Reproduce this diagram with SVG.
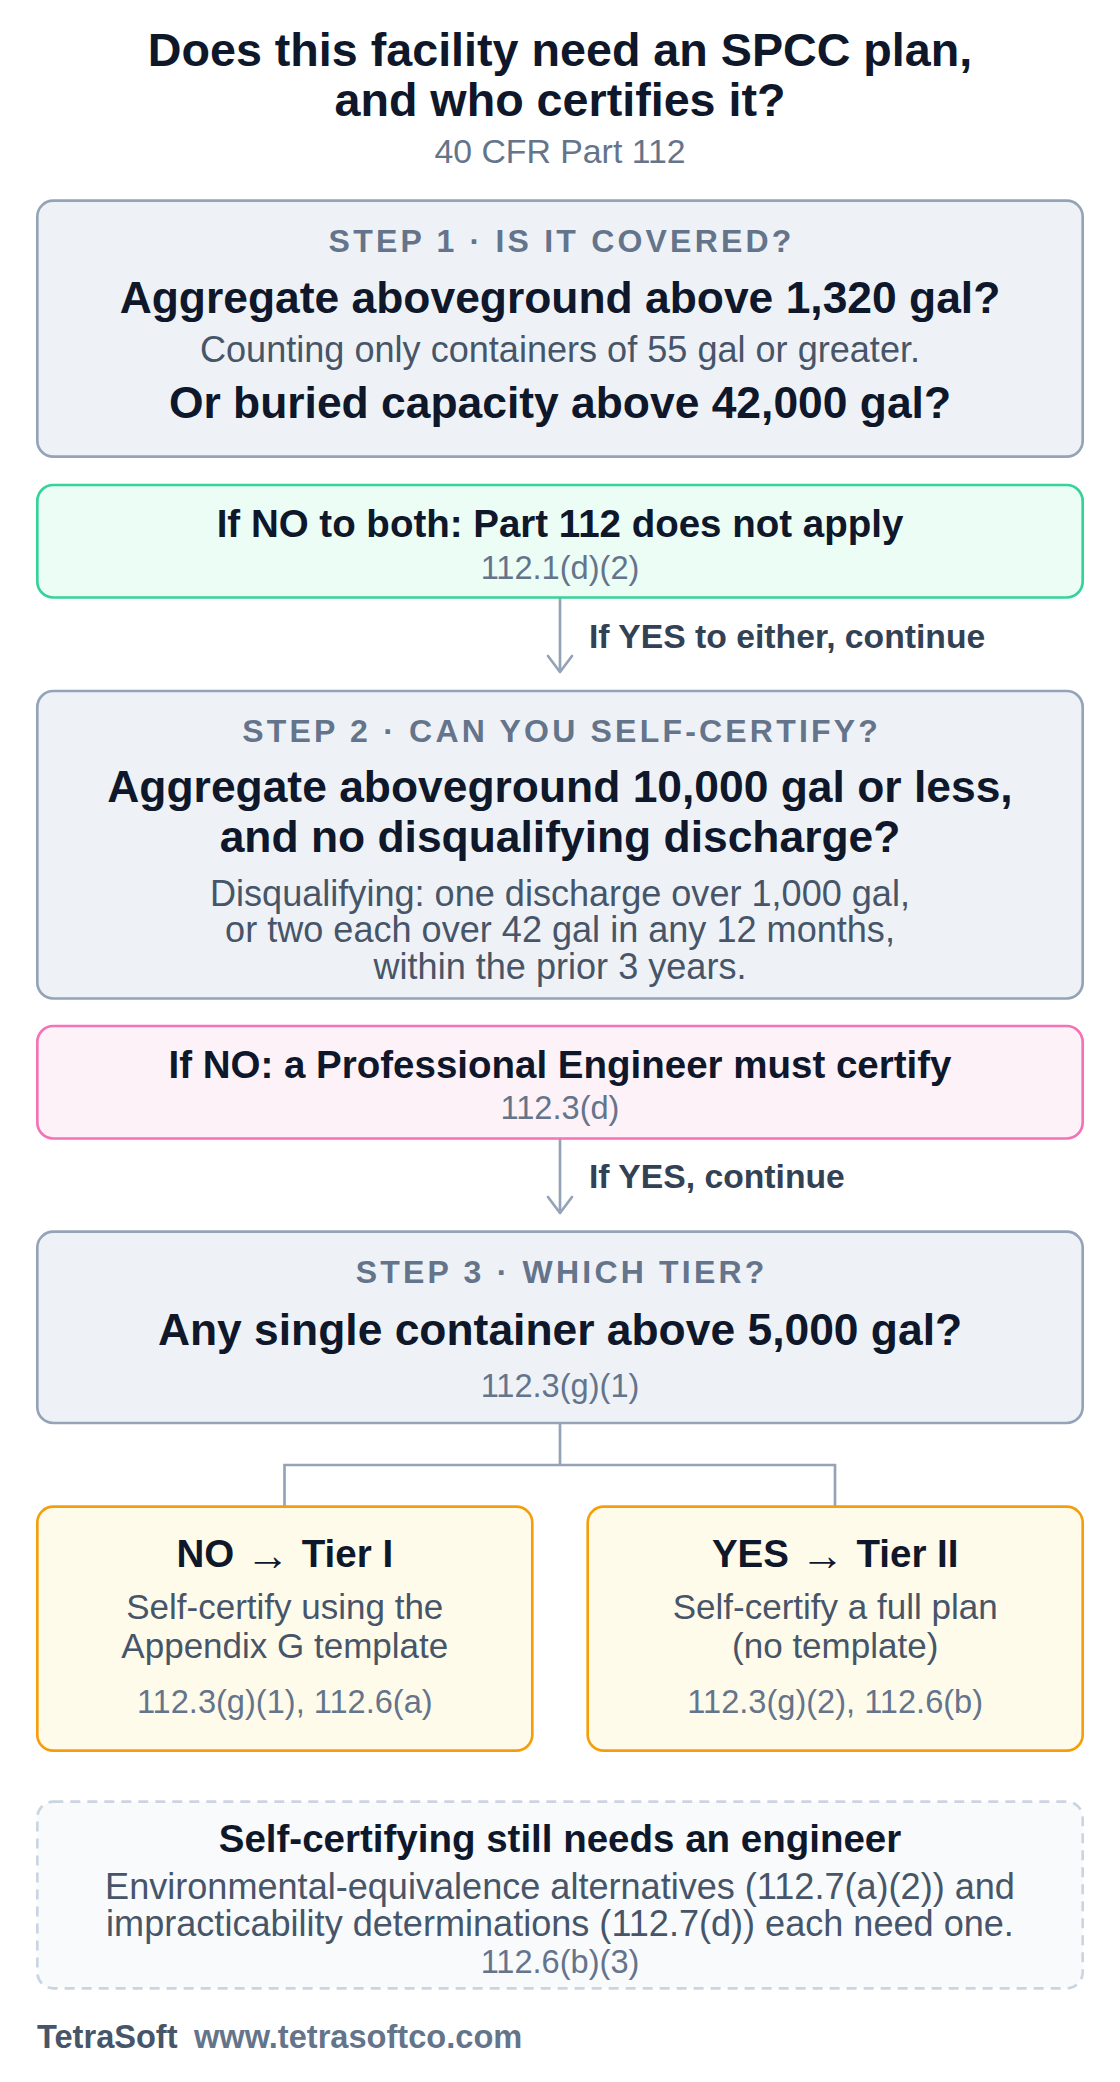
<svg xmlns="http://www.w3.org/2000/svg" width="1120" height="2082" viewBox="0 0 1120 2082">
<defs>
<style>
text{font-family:"Liberation Sans",Arial,sans-serif;}
.c{text-anchor:middle;}
.title{font-size:46.67px;font-weight:700;fill:#0f172a;}
.sub{font-size:33.8px;fill:#64748b;}
.step{font-size:32px;font-weight:700;fill:#64748b;letter-spacing:3.2px;}
.h{font-size:44.4px;font-weight:700;fill:#0f172a;}
.h2{font-size:38.5px;font-weight:700;fill:#0f172a;}
.arw{font-size:44px;font-weight:400;}
.body{font-size:36.1px;fill:#475569;}
.tb{font-size:35px;fill:#475569;}
.cite{font-size:32.6px;fill:#64748b;}
.lab{font-size:33.7px;font-weight:700;fill:#334155;}
.grey{fill:#eef2f7;stroke:#94a3b8;stroke-width:2.67;}
.green{fill:#ecfdf5;stroke:#34d399;stroke-width:2.67;}
.pink{fill:#fdf2f8;stroke:#f472b6;stroke-width:2.67;}
.amber{fill:#fffbeb;stroke:#f59e0b;stroke-width:2.67;}
.dash{fill:#f8fafc;stroke:#cbd5e1;stroke-width:2.67;stroke-dasharray:10 7;}
.conn{fill:none;stroke:#94a3b8;stroke-width:2.67;}
.foot1{font-size:32.6px;font-weight:700;fill:#475569;}
.foot2{font-size:32.6px;font-weight:700;fill:#64748b;}
</style>
<marker id="arr" viewBox="-20 -15 24 30" refX="0" refY="0" markerWidth="24" markerHeight="30" markerUnits="userSpaceOnUse" orient="auto">
<path d="M-16,-12 L0,0 L-16,12" fill="none" stroke="#94a3b8" stroke-width="2.67" stroke-linecap="round" stroke-linejoin="round"/>
</marker>
</defs>
<rect width="1120" height="2082" fill="#ffffff"/>
<g id="title">
<text class="c title" x="560" y="66">Does this facility need an SPCC plan,</text>
<text class="c title" x="560" y="116">and who certifies it?</text>
<text class="c sub" x="560" y="163">40 CFR Part 112</text>
</g>
<g id="connectors">
<path class="conn" d="M560,597.5 V672" marker-end="url(#arr)"/>
<text class="lab" x="589" y="648">If YES to either, continue</text>
<path class="conn" d="M560,1138.5 V1213" marker-end="url(#arr)"/>
<text class="lab" x="589" y="1188">If YES, continue</text>
<path class="conn" d="M560,1423 V1465 M284.5,1506.7 V1465 H835 V1506.7"/>
</g>
<g id="step1">
<rect class="grey" x="37.3" y="200.7" width="1045.4" height="256" rx="16"/>
<text class="c step" x="561.6" y="252">STEP 1 · IS IT COVERED?</text>
<text class="c h" x="560" y="313">Aggregate aboveground above 1,320 gal?</text>
<text class="c body" x="560" y="362">Counting only containers of 55 gal or greater.</text>
<text class="c h" x="560" y="418">Or buried capacity above 42,000 gal?</text>
</g>
<g id="not-apply">
<rect class="green" x="37.3" y="485" width="1045.4" height="112.5" rx="16"/>
<text class="c h2" x="560" y="537">If NO to both: Part 112 does not apply</text>
<text class="c cite" x="560" y="579">112.1(d)(2)</text>
</g>
<g id="step2">
<rect class="grey" x="37.3" y="691" width="1045.4" height="307.5" rx="16"/>
<text class="c step" x="561.6" y="741.5">STEP 2 · CAN YOU SELF-CERTIFY?</text>
<text class="c h" x="560" y="802">Aggregate aboveground 10,000 gal or less,</text>
<text class="c h" x="560" y="851.5">and no disqualifying discharge?</text>
<text class="c body" x="560" y="905.7">Disqualifying: one discharge over 1,000 gal,</text>
<text class="c body" x="560" y="942.3">or two each over 42 gal in any 12 months,</text>
<text class="c body" x="560" y="979">within the prior 3 years.</text>
</g>
<g id="pe-must">
<rect class="pink" x="37.3" y="1026" width="1045.4" height="112.5" rx="16"/>
<text class="c h2" x="560" y="1077.5">If NO: a Professional Engineer must certify</text>
<text class="c cite" x="560" y="1118.5">112.3(d)</text>
</g>
<g id="step3">
<rect class="grey" x="37.3" y="1231.7" width="1045.4" height="191.3" rx="16"/>
<text class="c step" x="561.6" y="1283">STEP 3 · WHICH TIER?</text>
<text class="c h" x="560" y="1345">Any single container above 5,000 gal?</text>
<text class="c cite" x="560" y="1396.7">112.3(g)(1)</text>
</g>
<g id="tier1">
<rect class="amber" x="37.3" y="1506.7" width="495" height="244" rx="16"/>
<text class="c h2" x="284.8" y="1567">NO<tspan class="arw" dx="11.5" dy="3">→</tspan><tspan dx="12" dy="-3">Tier I</tspan></text>
<text class="c tb" x="284.8" y="1619.3">Self-certify using the</text>
<text class="c tb" x="284.8" y="1658.3">Appendix G template</text>
<text class="c cite" x="284.8" y="1713.3">112.3(g)(1), 112.6(a)</text>
</g>
<g id="tier2">
<rect class="amber" x="587.7" y="1506.7" width="495" height="244" rx="16"/>
<text class="c h2" x="835.2" y="1567">YES<tspan class="arw" dx="11.5" dy="3">→</tspan><tspan dx="12" dy="-3">Tier II</tspan></text>
<text class="c tb" x="835.2" y="1619.3">Self-certify a full plan</text>
<text class="c tb" x="835.2" y="1658.3">(no template)</text>
<text class="c cite" x="835.2" y="1713.3">112.3(g)(2), 112.6(b)</text>
</g>
<g id="engineer-note">
<rect class="dash" x="37.3" y="1801.7" width="1045.4" height="186.6" rx="16"/>
<text class="c h2" x="560" y="1851.7">Self-certifying still needs an engineer</text>
<text class="c body" x="560" y="1899.3">Environmental-equivalence alternatives (112.7(a)(2)) and</text>
<text class="c body" x="560" y="1936">impracticability determinations (112.7(d)) each need one.</text>
<text class="c cite" x="560" y="1973.3">112.6(b)(3)</text>
</g>
<g id="footer">
<text class="foot1" x="37" y="2048.3">TetraSoft</text>
<text class="foot2" x="194" y="2048.3">www.tetrasoftco.com</text>
</g>
</svg>
